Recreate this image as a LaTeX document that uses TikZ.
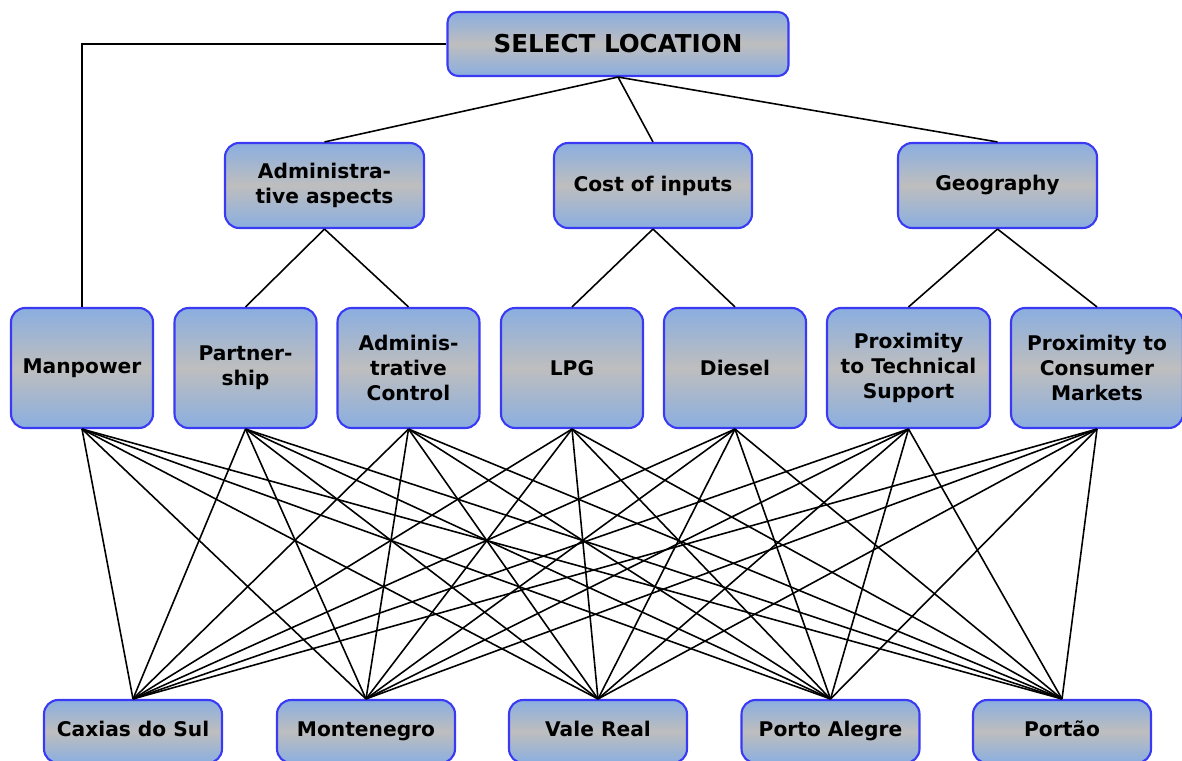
\documentclass[tikz,border=0pt]{standalone}
\usepackage{fontspec}
\setmainfont{DejaVu Sans}
\usepackage{tikz}

\definecolor{boxblue}{HTML}{8AAEE0}
\definecolor{boxgray}{HTML}{BEBEBE}
\definecolor{boxline}{HTML}{3A3AF5}

\tikzset{
  box/.style={draw=boxline, line width=1.2pt, rounded corners=8pt,
    top color=boxblue, bottom color=boxblue, middle color=boxgray,
    align=center, inner sep=2pt,
    font=\fontsize{11.5}{14}\selectfont\bfseries},
  crit/.style={box, minimum width=2.84cm, minimum height=2.4cm},
  city/.style={box, minimum width=3.56cm, minimum height=1.26cm,
    text height=0.75em, text depth=0.2em},
  link/.style={line width=0.9pt}
}

\begin{document}
\begin{tikzpicture}[x=0.02cm, y=-0.02cm]

    \useasboundingbox (0,0) rectangle (1182,760);

    \node[box, minimum width=6.82cm, minimum height=1.28cm, rounded corners=6pt,
      font=\fontsize{14}{16}\selectfont\bfseries] (s) at (618, 44) {SELECT LOCATION};

    \node[box, minimum width=3.98cm, minimum height=1.7cm] (p) at (324.5, 185.5) {Administra-\\tive aspects};
    \node[box, minimum width=3.96cm, minimum height=1.7cm] (q) at (653, 185.5) {Cost of inputs};
    \node[box, minimum width=3.98cm, minimum height=1.7cm] (r) at (997.5, 185.5) {Geography};

    \node[crit] (a) at (82, 368) {Manpower};
    \node[crit] (b) at (245.5, 368) {Partner-\\ship};
    \node[crit] (c) at (408.5, 368) {Adminis-\\trative\\Control};
    \node[crit] (d) at (572, 368) {LPG};
    \node[crit] (e) at (735, 368) {Diesel};
    \node[crit, minimum width=3.26cm] (f) at (908.5, 368) {Proximity\\to Technical\\Support};
    \node[crit, minimum width=3.44cm] (g) at (1097, 368) {Proximity to\\Consumer\\Markets};

    \node[city] (v) at (133, 731.5) {Caxias do Sul};
    \node[city] (w) at (366, 731.5) {Montenegro};
    \node[city] (x) at (598, 731.5) {Vale Real};
    \node[city] (y) at (830.5, 731.5) {Porto Alegre};
    \node[city] (z) at (1062, 731.5) {Portão};

    \draw [link] (s.south) to (p.north);
    \draw [link] (s.south) to (q.north);
    \draw [link] (s.south) to (r.north);
    \draw [link] (s.west) -| (a.north);

    \draw [link] (p.south) to (b.north);
    \draw [link] (p.south) to (c.north);
    \draw [link] (q.south) to (d.north);
    \draw [link] (q.south) to (e.north);
    \draw [link] (r.south) to (f.north);
    \draw [link] (r.south) to (g.north);

    \draw [link] (a.south) to (v.north);
    \draw [link] (a.south) to (w.north);
    \draw [link] (a.south) to (x.north);
    \draw [link] (a.south) to (y.north);
    \draw [link] (a.south) to (z.north);

    \draw [link] (b.south) to (v.north);
    \draw [link] (b.south) to (w.north);
    \draw [link] (b.south) to (x.north);
    \draw [link] (b.south) to (y.north);
    \draw [link] (b.south) to (z.north);

    \draw [link] (c.south) to (v.north);
    \draw [link] (c.south) to (w.north);
    \draw [link] (c.south) to (x.north);
    \draw [link] (c.south) to (y.north);
    \draw [link] (c.south) to (z.north);

    \draw [link] (d.south) to (v.north);
    \draw [link] (d.south) to (w.north);
    \draw [link] (d.south) to (x.north);
    \draw [link] (d.south) to (y.north);
    \draw [link] (d.south) to (z.north);

    \draw [link] (e.south) to (v.north);
    \draw [link] (e.south) to (w.north);
    \draw [link] (e.south) to (x.north);
    \draw [link] (e.south) to (y.north);
    \draw [link] (e.south) to (z.north);

    \draw [link] (f.south) to (v.north);
    \draw [link] (f.south) to (w.north);
    \draw [link] (f.south) to (x.north);
    \draw [link] (f.south) to (y.north);
    \draw [link] (f.south) to (z.north);

    \draw [link] (g.south) to (v.north);
    \draw [link] (g.south) to (w.north);
    \draw [link] (g.south) to (x.north);
    \draw [link] (g.south) to (y.north);
    \draw [link] (g.south) to (z.north);

  \end{tikzpicture}
\end{document}
